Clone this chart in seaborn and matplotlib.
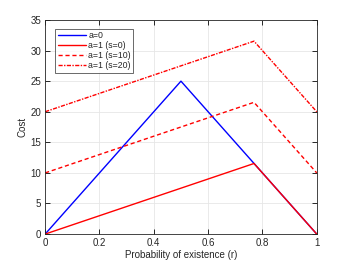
import matplotlib
matplotlib.use("Agg")
import matplotlib.pyplot as plt
import seaborn as sns
import pandas as pd

# Curve data (probability of existence r vs cost)
r_a0 = [0.0, 0.5, 1.0]
cost_a0 = [0.0, 25.0, 0.0]

r_a1 = [0.0, 0.769, 1.0]
cost_a1_s0 = [0.0, 11.54, 0.0]
cost_a1_s10 = [10.0, 21.54, 10.0]
cost_a1_s20 = [20.0, 31.54, 20.0]

labels = ["a=0", "a=1 (s=0)", "a=1 (s=10)", "a=1 (s=20)"]

sns.set_theme(style="whitegrid")
plt.rcParams['font.family'] = ['Liberation Sans', 'DejaVu Sans']

fig = plt.figure(figsize=(3.5, 2.63), dpi=100)
ax = fig.add_axes([0.129, 0.110, 0.776, 0.814])

df = pd.DataFrame({
    "r": r_a0 + r_a1 * 3,
    "cost": cost_a0 + cost_a1_s0 + cost_a1_s10 + cost_a1_s20,
    "curve": [labels[0]] * 3 + [labels[1]] * 3 + [labels[2]] * 3 + [labels[3]] * 3,
})

styles = {
    labels[0]: ("#0000ff", "-"),
    labels[1]: ("#ff0000", "-"),
    labels[2]: ("#ff0000", (0, (3, 2))),
    labels[3]: ("#ff0000", (0, (3, 1, 1, 1))),
}
for lab in labels:
    sub = df[df["curve"] == lab]
    c, ls = styles[lab]
    sns.lineplot(x="r", y="cost", data=sub, ax=ax, color=c, linestyle=ls,
                 linewidth=1.0, label=lab, sort=False)

ax.set_xlim(0, 1)
ax.set_ylim(0, 35)
ax.set_xticks([0, 0.2, 0.4, 0.6, 0.8, 1])
ax.set_xticklabels(["0", "0.2", "0.4", "0.6", "0.8", "1"])
ax.set_yticks(range(0, 36, 5))
ax.set_xlabel("Probability of existence (r)", fontsize=7, color="#262626", labelpad=1)
ax.set_ylabel("Cost", fontsize=7, color="#262626", labelpad=2)
ax.tick_params(axis="both", which="major", labelsize=7, colors="#262626",
               direction="in", length=3.5, width=0.7, pad=3,
               bottom=True, left=True, top=True, right=True)
ax.grid(True, color="#e6e6e6", linewidth=0.6)
ax.set_facecolor("white")
for s in ax.spines.values():
    s.set_color("#262626")
    s.set_linewidth(0.6)

leg = ax.legend(loc="upper left", fontsize=6.3, frameon=True, fancybox=False,
                handlelength=3.2, handletextpad=0.3, borderpad=0.3,
                labelspacing=0.1, bbox_to_anchor=(0.02, 0.98))
leg.get_frame().set_edgecolor("#262626")
leg.get_frame().set_linewidth(0.6)

fig.savefig("out.png", dpi=100)
